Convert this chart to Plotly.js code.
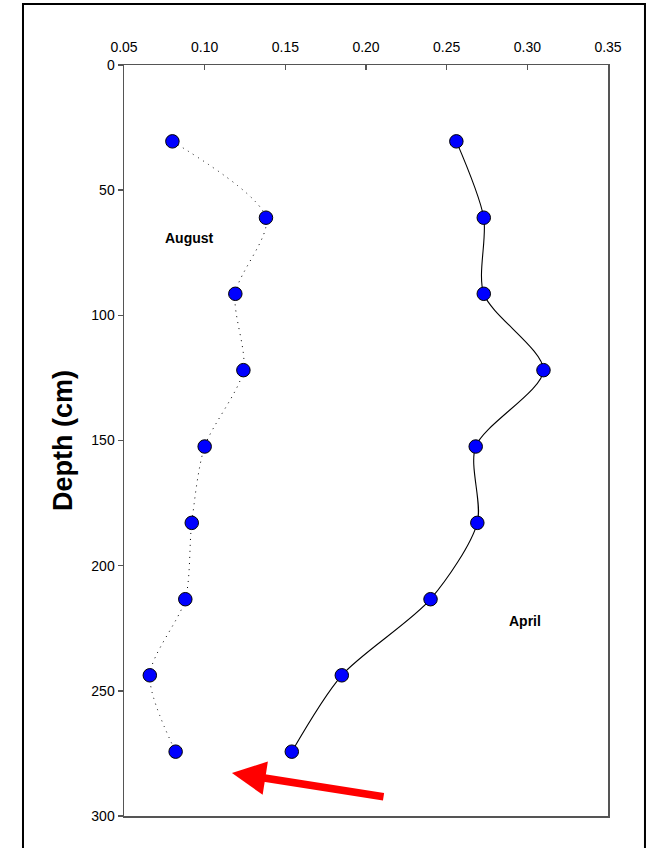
<!DOCTYPE html>
<html>
<head>
<meta charset="utf-8">
<script src="https://cdn.plot.ly/plotly-3.0.1.min.js"></script>
<style>html,body{margin:0;padding:0;background:#fff;}#chart{width:654px;height:848px;}</style>
</head>
<body>
<div id="chart"></div>
<script>
const depth = [30.5, 61.0, 91.4, 121.9, 152.4, 182.9, 213.4, 243.8, 274.3];
const august = [0.080, 0.138, 0.119, 0.124, 0.100, 0.092, 0.088, 0.066, 0.082];
const april = [0.256, 0.273, 0.273, 0.310, 0.268, 0.269, 0.240, 0.185, 0.154];
const xTicks = [0.05, 0.10, 0.15, 0.20, 0.25, 0.30, 0.35];
const xTickText = ["0.05", "0.10", "0.15", "0.20", "0.25", "0.30", "0.35"];
const yTicks = [0, 50, 100, 150, 200, 250, 300];

const marker = {color: '#0000ff', size: 13.5, line: {color: '#000', width: 1}};
const traces = [
  {x: august, y: depth, mode: 'lines+markers', type: 'scatter', name: 'August',
   line: {color: '#000', width: 1, dash: '1px,5px', shape: 'spline', smoothing: 0.8}, marker: marker},
  {x: april, y: depth, mode: 'lines+markers', type: 'scatter', name: 'April',
   line: {color: '#000', width: 1.1, shape: 'spline', smoothing: 0.8}, marker: marker}
];

const tickFont = {family: 'Liberation Sans Narrow, Liberation Sans, Arial', size: 14, color: '#000'};
const layout = {
  width: 654, height: 848,
  margin: {l: 124, r: 46, t: 65, b: 32, pad: 0},
  paper_bgcolor: '#fff', plot_bgcolor: '#fff',
  showlegend: false,
  xaxis: {
    side: 'top', range: [0.05, 0.35], tickvals: xTicks, ticktext: xTickText,
    ticks: 'inside', ticklen: 5, tickcolor: '#555', tickwidth: 1.5,
    showgrid: false, zeroline: false, showline: true, linecolor: '#555', linewidth: 1.5,
    mirror: true, tickfont: tickFont, ticklabelstandoff: 6
  },
  yaxis: {
    range: [300, 0], tickvals: yTicks, ticks: 'outside', ticklen: 5, tickcolor: '#555', tickwidth: 1.5,
    showgrid: false, zeroline: false, showline: true, linecolor: '#555', linewidth: 1.5,
    mirror: true, tickfont: tickFont,
    title: {text: 'Depth (cm)', font: {family: 'Liberation Sans, Arial', size: 27, color: '#000', weight: 'bold'}, standoff: 11}
  },
  annotations: [
    {x: 0.0909, y: 69, xref: 'x', yref: 'y', text: '<b>August</b>', showarrow: false,
     font: {family: 'Liberation Sans, Arial', size: 14, color: '#000'}},
    {x: 0.2986, y: 222, xref: 'x', yref: 'y', text: '<b>April</b>', showarrow: false,
     font: {family: 'Liberation Sans, Arial', size: 14, color: '#000'}},
    {x: 0.1169, y: 282.8, xref: 'x', yref: 'y', ax: 0.2118, ay: 292.4, axref: 'x', ayref: 'y',
     text: '', showarrow: true, arrowhead: 2, arrowsize: 0.9, arrowwidth: 7.5, arrowcolor: '#ff0000'}
  ],
  shapes: [
    {type: 'rect', xref: 'paper', yref: 'paper', x0: -0.2087, x1: 1.0764, y0: -0.06, y1: 1.0812,
     line: {color: '#000', width: 2}, fillcolor: 'rgba(0,0,0,0)', layer: 'below'}
  ]
};
Plotly.newPlot('chart', traces, layout, {displayModeBar: false, staticPlot: true});
</script>
</body>
</html>
